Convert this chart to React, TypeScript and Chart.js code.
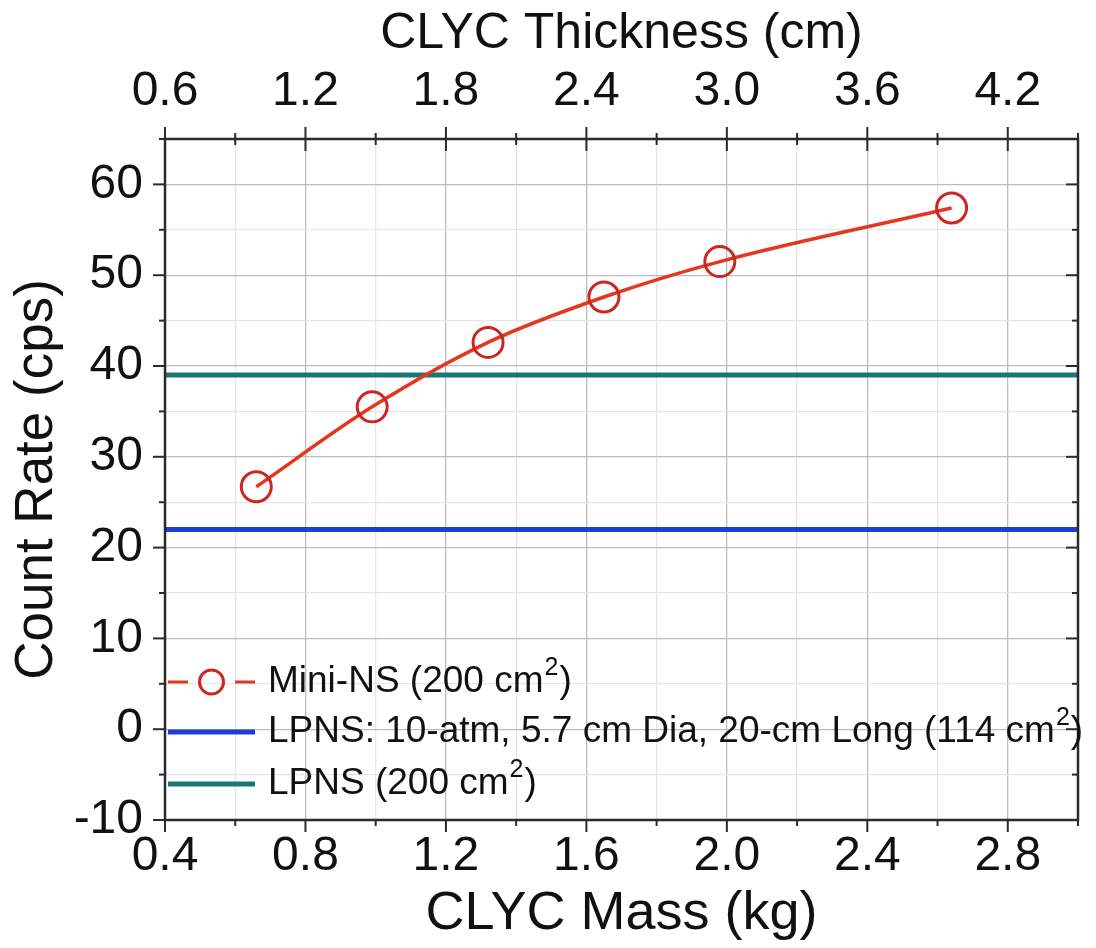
import React, { useEffect, useRef } from 'react';
import { Chart, registerables } from 'chart.js';

Chart.register(...registerables);

// ---- data ----
const massKg = [0.66, 0.99, 1.32, 1.65, 1.98, 2.64];
const miniNsRate = [26.7, 35.5, 42.6, 47.6, 51.5, 57.4];
const lpnsSpanKg = [0.4, 3.0];
const lpns114Rate = [22, 22];
const lpns200Rate = [39, 39];
const massRange = [0.4, 3.0];
const thicknessRange = [0.6, 4.5];
const rateRange = [-10, 65];
const legendLabels = [
  ['Mini-NS (200 cm', '2', ')'],
  ['LPNS: 10-atm, 5.7 cm Dia, 20-cm Long (114 cm', '2', ')'],
  ['LPNS (200 cm', '2', ')'],
];

const FONT = '"Liberation Sans", Arial, Helvetica, sans-serif';
const RED_LINE = '#e3371f';
const RED_MARK = '#cc2622';
const BLUE = '#1d3ed6';
const TEAL = '#1b7870';

const isMult = (v: number, base: number, step: number) => {
  const r = (v - base) / step;
  return Math.abs(r - Math.round(r)) < 1e-6;
};

const frameTicks = {
  id: 'frameTicks',
  afterDatasetsDraw(chart: any) {
    const { ctx, chartArea: a, scales } = chart;
    const x = scales.x, x2 = scales.x2, y = scales.y;
    ctx.save();
    ctx.strokeStyle = '#2b2b2b';
    ctx.lineWidth = 2.5;
    ctx.strokeRect(a.left, a.top, a.right - a.left, a.bottom - a.top);
    ctx.lineWidth = 2;
    const line = (x0: number, y0: number, x1: number, y1: number) => {
      ctx.beginPath();
      ctx.moveTo(x0, y0);
      ctx.lineTo(x1, y1);
      ctx.stroke();
    };
    x.ticks.forEach((t: any) => {
      const px = x.getPixelForValue(t.value);
      const L = isMult(t.value, 0.4, 0.4) ? 12 : 6;
      line(px, a.bottom, px, a.bottom + L);
    });
    x2.ticks.forEach((t: any) => {
      const px = x2.getPixelForValue(t.value);
      const L = isMult(t.value, 0.6, 0.6) ? 12 : 6;
      line(px, a.top - L, px, a.top + L);
    });
    y.ticks.forEach((t: any) => {
      const py = y.getPixelForValue(t.value);
      const L = isMult(t.value, 0, 10) ? 12 : 6;
      line(a.left - L, py, a.left, py);
      line(a.right - L, py, a.right, py);
    });
    ctx.restore();
  },
};

const customLegend = {
  id: 'customLegend',
  afterDraw(chart: any) {
    const { ctx, chartArea: a } = chart;
    const rows = [a.bottom - 138, a.bottom - 88, a.bottom - 36];
    const colors = [RED_LINE, BLUE, TEAL];
    const x0 = a.left + 3;
    const x1 = a.left + 90;
    const tx = a.left + 103;
    ctx.save();
    rows.forEach((ry, i) => {
      if (i === 0) {
        ctx.strokeStyle = RED_LINE;
        ctx.lineWidth = 3;
        ctx.beginPath();
        ctx.moveTo(x0, ry);
        ctx.lineTo(x0 + 20, ry);
        ctx.moveTo(x1 - 20, ry);
        ctx.lineTo(x1, ry);
        ctx.stroke();
        ctx.strokeStyle = RED_MARK;
        ctx.beginPath();
        ctx.arc((x0 + x1) / 2, ry, 12, 0, Math.PI * 2);
        ctx.stroke();
      } else {
        ctx.strokeStyle = colors[i];
        ctx.lineWidth = 5;
        ctx.beginPath();
        ctx.moveTo(x0, ry);
        ctx.lineTo(x1, ry);
        ctx.stroke();
      }
      const [main, sup, tail] = legendLabels[i];
      ctx.fillStyle = '#111';
      ctx.textBaseline = 'middle';
      ctx.textAlign = 'left';
      ctx.font = `37px ${FONT}`;
      ctx.fillText(main, tx, ry);
      const w = ctx.measureText(main).width;
      ctx.font = `25px ${FONT}`;
      ctx.fillText(sup, tx + w + 1, ry - 14);
      const ws = ctx.measureText(sup).width;
      ctx.font = `37px ${FONT}`;
      ctx.fillText(tail, tx + w + ws + 2, ry);
    });
    ctx.restore();
  },
};

export default function App() {
  const ref = useRef<HTMLCanvasElement | null>(null);
  useEffect(() => {
    document.body.style.margin = '0';
    const canvas = ref.current;
    if (!canvas) return;
    const chart = new Chart(canvas, {
      type: 'line',
      data: {
        datasets: [
          {
            label: 'Mini-NS (200 cm²)',
            data: massKg.map((m, i) => ({ x: m, y: miniNsRate[i] })),
            borderColor: RED_LINE,
            borderWidth: 3.5,
            pointRadius: 15,
            pointHoverRadius: 15,
            pointBorderWidth: 3,
            pointBorderColor: RED_MARK,
            pointBackgroundColor: 'rgba(0,0,0,0)',
            tension: 0.35,
            cubicInterpolationMode: 'monotone',
            fill: false,
            order: 0,
            xAxisID: 'x',
            yAxisID: 'y',
          },
          {
            label: 'LPNS: 10-atm, 5.7 cm Dia, 20-cm Long (114 cm²)',
            data: lpnsSpanKg.map((m, i) => ({ x: m, y: lpns114Rate[i] })),
            borderColor: BLUE,
            borderWidth: 5,
            pointRadius: 0,
            fill: false,
            order: 1,
            xAxisID: 'x',
            yAxisID: 'y',
          },
          {
            label: 'LPNS (200 cm²)',
            data: lpnsSpanKg.map((m, i) => ({ x: m, y: lpns200Rate[i] })),
            borderColor: TEAL,
            borderWidth: 5,
            pointRadius: 0,
            fill: false,
            order: 2,
            xAxisID: 'x',
            yAxisID: 'y',
          },
        ],
      },
      options: {
        responsive: false,
        animation: false,
        layout: { padding: { right: 16, left: 0, top: 0, bottom: 0 } },
        plugins: { legend: { display: false }, tooltip: { enabled: false } },
        scales: {
          x: {
            type: 'linear',
            position: 'bottom',
            min: massRange[0],
            max: massRange[1],
            afterFit: (s: any) => { s.height = 128; },
            ticks: {
              stepSize: 0.2,
              padding: 8,
              color: '#111',
              font: { family: FONT, size: 48 },
              maxRotation: 0,
              autoSkip: false,
              callback: (v: any) => (isMult(Number(v), 0.4, 0.4) ? Number(v).toFixed(1) : ''),
            },
            grid: {
              drawTicks: false,
              color: (c: any) => (c.tick && isMult(c.tick.value, 0.4, 0.4) ? '#bcbcbc' : '#e6e6e6'),
              lineWidth: 1.3,
            },
            border: { display: false },
            title: {
              display: true,
              text: 'CLYC Mass (kg)',
              color: '#111',
              font: { family: FONT, size: 54 },
              padding: { top: 1, bottom: 1 },
            },
          },
          x2: {
            type: 'linear',
            position: 'top',
            min: thicknessRange[0],
            max: thicknessRange[1],
            afterFit: (s: any) => { s.height = 139; },
            ticks: {
              stepSize: 0.3,
              includeBounds: false,
              padding: 18,
              color: '#111',
              font: { family: FONT, size: 48 },
              maxRotation: 0,
              autoSkip: false,
              callback: (v: any) => (isMult(Number(v), 0.6, 0.6) ? Number(v).toFixed(1) : ''),
            },
            grid: { display: false, drawTicks: false },
            border: { display: false },
            title: {
              display: true,
              text: 'CLYC Thickness (cm)',
              color: '#111',
              font: { family: FONT, size: 50 },
              padding: { top: 4, bottom: 4 },
            },
          },
          y: {
            type: 'linear',
            position: 'left',
            min: rateRange[0],
            max: rateRange[1],
            afterFit: (s: any) => { s.width = 165; },
            ticks: {
              stepSize: 5,
              padding: 22,
              color: '#111',
              font: { family: FONT, size: 48 },
              autoSkip: false,
              callback: (v: any) => (isMult(Number(v), 0, 10) ? String(v) : ''),
            },
            grid: {
              drawTicks: false,
              color: (c: any) => (c.tick && isMult(c.tick.value, 0, 10) ? '#bcbcbc' : '#e6e6e6'),
              lineWidth: 1.3,
            },
            border: { display: false },
            title: {
              display: true,
              text: 'Count Rate (cps)',
              color: '#111',
              font: { family: FONT, size: 53 },
              padding: { top: 6, bottom: 6 },
            },
          },
        },
      },
      plugins: [frameTicks, customLegend],
    } as any);
    return () => chart.destroy();
  }, []);
  return <canvas ref={ref} width={1096} height={948} style={{ display: 'block' }} />;
}
